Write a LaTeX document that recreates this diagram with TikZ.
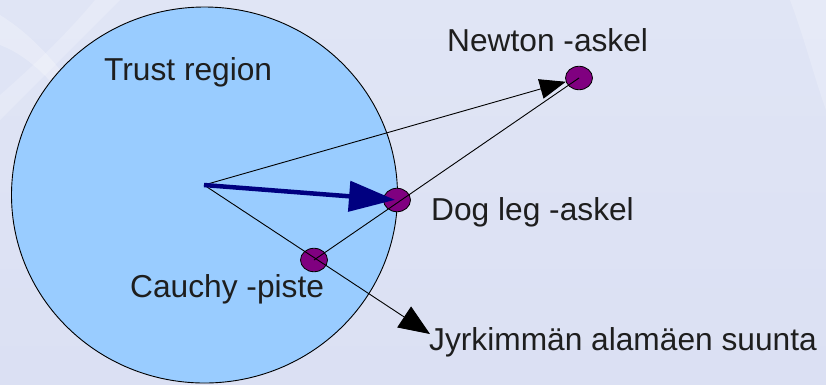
\documentclass[tikz,border=0pt]{standalone}
\usepackage{fontspec}
\setmainfont{Liberation Sans}
\usetikzlibrary{arrows.meta,shapes.geometric}
\definecolor{bgcol}{RGB}{224,229,245}
\definecolor{bgdark}{RGB}{219,224,243}
\definecolor{regioncol}{RGB}{153,204,255}
\definecolor{dotcol}{RGB}{128,0,128}
\definecolor{navyarrow}{RGB}{0,0,128}
\definecolor{txtcol}{RGB}{30,30,30}
\begin{document}
\begin{tikzpicture}[x=1pt,y=-1pt,
  lbl/.style={anchor=base west, inner sep=0pt, font=\fontsize{31.7}{38}\selectfont, text=txtcol},
  dot/.style={ellipse, draw=black, line width=0.8pt, fill=dotcol, minimum width=27pt, minimum height=23.5pt, inner sep=0pt},
  region/.style={ellipse, draw=black, line width=0.9pt, fill=regioncol, minimum width=386pt, minimum height=376pt, inner sep=0pt},
  thinline/.style={draw=black, line width=0.9pt},
  smalltip/.style={-{Triangle[length=26pt,width=20pt]}},
  midtip/.style={-{Triangle[length=31pt,width=25pt]}},
  bigarrow/.style={draw=navyarrow, line width=4.5pt, -{Triangle[length=46pt,width=30pt]}},
]
\useasboundingbox (0,0) rectangle (826,384);
% background
\shade[top color=bgcol, bottom color=bgdark] (0,0) rectangle (826,384);
\fill[white, opacity=0.25] (0,15) .. controls (40,40) and (90,90) .. (150,230) -- (150,260) .. controls (90,110) and (40,60) .. (0,45) -- cycle;
\fill[white, opacity=0.2] (95,0) .. controls (70,30) and (40,60) .. (0,95) -- (0,120) .. controls (40,80) and (80,40) .. (120,0) -- cycle;
\fill[white, opacity=0.2] (790,0) .. controls (805,40) and (815,80) .. (826,110) -- (826,0) -- cycle;
% trust region
\node[region] (reg) at (204.5,195) {};
\coordinate (o) at (204,185);
\coordinate (steep) at (430,334);
% points
\node[dot] (cauchy) at (314,260) {};
\node[dot] (dogleg) at (397,200) {};
\node[dot] (newton) at (579,78) {};
% connectors
\draw[thinline, smalltip] (o) -- (newton);
\draw[thinline, midtip] (o) -- (steep);
\draw[thinline] (cauchy.center) -- (newton.center);
\draw[bigarrow, shorten >=2pt] (o) -- (dogleg.center);
% labels
\node[lbl] (trl) at (104,80.7) {Trust region};
\node[lbl] (nwl) at (447,51) {Newton -askel};
\node[lbl] (dll) at (431,220.7) {Dog leg -askel};
\node[lbl] (cal) at (130,297) {Cauchy -piste};
\node[lbl] (jyl) at (429,350) {Jyrkimmän alamäen suunta};
\end{tikzpicture}
\end{document}
